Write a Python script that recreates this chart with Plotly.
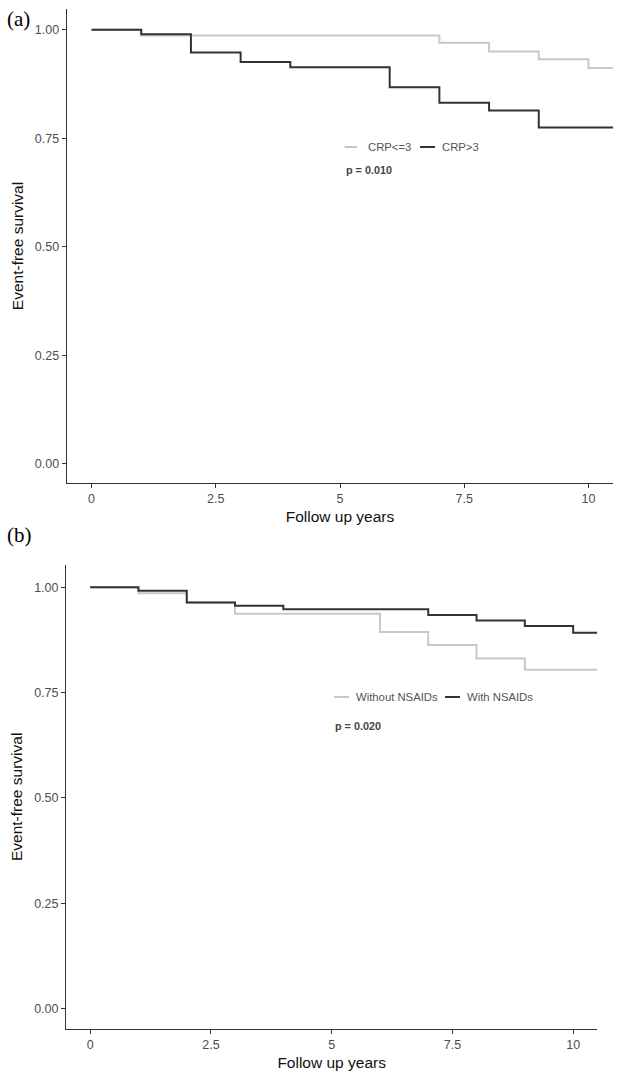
import plotly.graph_objects as go

# ---------------- data ----------------
# Panel (a): CRP groups
time_a_low = [0, 1, 7, 8, 9, 10, 10.5]
surv_a_low = [1.00, 0.987, 0.970, 0.950, 0.932, 0.912, 0.912]
time_a_high = [0, 1, 2, 3, 4, 6, 7, 8, 9, 10.5]
surv_a_high = [1.00, 0.990, 0.948, 0.926, 0.914, 0.868, 0.832, 0.814, 0.775, 0.775]
names_a = ["CRP<=3", "CRP>3"]
p_a = "p = 0.010"

# Panel (b): NSAIDs groups
time_b_without = [0, 1, 2, 3, 6, 7, 8, 9, 10.5]
surv_b_without = [1.00, 0.986, 0.964, 0.937, 0.894, 0.863, 0.831, 0.804, 0.804]
time_b_with = [0, 1, 2, 3, 4, 7, 8, 9, 10, 10.5]
surv_b_with = [1.00, 0.992, 0.964, 0.956, 0.948, 0.934, 0.921, 0.908, 0.892, 0.892]
names_b = ["Without NSAIDs", "With NSAIDs"]
p_b = "p = 0.020"

x_ticks = [0, 2.5, 5, 7.5, 10]
x_ticklabels = ["0", "2.5", "5", "7.5", "10"]
y_ticks = [0, 0.25, 0.5, 0.75, 1.0]
y_ticklabels = ["0.00", "0.25", "0.50", "0.75", "1.00"]

LIGHT = "#c8c8c8"
DARK = "#333333"
W, H = 625, 1076
SANS = "Liberation Sans, Arial, sans-serif"
SERIF = "Liberation Serif, Times New Roman, serif"

fig = go.Figure()

fig.add_trace(go.Scatter(x=time_a_low, y=surv_a_low, mode="lines", line_shape="hv",
                         line=dict(color=LIGHT, width=2), name=names_a[0],
                         xaxis="x", yaxis="y", showlegend=False))
fig.add_trace(go.Scatter(x=time_a_high, y=surv_a_high, mode="lines", line_shape="hv",
                         line=dict(color=DARK, width=2), name=names_a[1],
                         xaxis="x", yaxis="y", showlegend=False))
fig.add_trace(go.Scatter(x=time_b_without, y=surv_b_without, mode="lines", line_shape="hv",
                         line=dict(color=LIGHT, width=2), name=names_b[0],
                         xaxis="x2", yaxis="y2", showlegend=False))
fig.add_trace(go.Scatter(x=time_b_with, y=surv_b_with, mode="lines", line_shape="hv",
                         line=dict(color=DARK, width=2), name=names_b[1],
                         xaxis="x2", yaxis="y2", showlegend=False))


def px_x(v):
    return v / W


def px_y(v):
    return 1 - v / H


axis_common = dict(showline=True, linecolor="#333333", linewidth=1, ticks="outside",
                   ticklen=4, tickwidth=1, tickcolor="#333333", showgrid=False,
                   zeroline=False, automargin=False,
                   tickfont=dict(family=SANS, size=12.5, color="#4d4d4d"),
                   fixedrange=True)
title_font = dict(family=SANS, size=15.5, color="#111")

fig.update_layout(
    width=W, height=H,
    margin=dict(l=0, r=0, t=0, b=0),
    paper_bgcolor="white", plot_bgcolor="white",
    xaxis=dict(domain=[px_x(66.7), px_x(613.3)], range=[-0.5, 10.5], anchor="y",
               tickvals=x_ticks, ticktext=x_ticklabels,
               title=dict(text="Follow up years", font=title_font, standoff=6),
               **axis_common),
    yaxis=dict(domain=[px_y(483), px_y(9)], range=[-0.044, 1.048], anchor="x",
               tickvals=y_ticks, ticktext=y_ticklabels,
               title=dict(text="Event-free survival", font=title_font, standoff=7),
               **axis_common),
    xaxis2=dict(domain=[px_x(66), px_x(597.3)], range=[-0.5, 10.5], anchor="y2",
                tickvals=x_ticks, ticktext=x_ticklabels,
                title=dict(text="Follow up years", font=title_font, standoff=6),
                **axis_common),
    yaxis2=dict(domain=[px_y(1028.7), px_y(565)], range=[-0.048, 1.053], anchor="x2",
                tickvals=y_ticks, ticktext=y_ticklabels,
                title=dict(text="Event-free survival", font=title_font, standoff=7),
                **axis_common),
)

# panel labels
fig.add_annotation(text="(a)", x=px_x(5), y=px_y(19), xref="paper", yref="paper",
                   xanchor="left", yanchor="middle", showarrow=False,
                   font=dict(family=SERIF, size=21, color="#000"))
fig.add_annotation(text="(b)", x=px_x(5), y=px_y(535), xref="paper", yref="paper",
                   xanchor="left", yanchor="middle", showarrow=False,
                   font=dict(family=SERIF, size=21, color="#000"))

# in-plot legends (keys + labels) and p-values
LEG_FONT = dict(family=SANS, size=11.3, color="#555555")
P_FONT = dict(family=SANS, size=10.8, color="#444444", weight="bold")


def legend_row(y, items):
    for (x0, x1, xt, color, label) in items:
        fig.add_shape(type="line", xref="paper", yref="paper",
                      x0=px_x(x0), x1=px_x(x1), y0=px_y(y), y1=px_y(y),
                      line=dict(color=color, width=2))
        fig.add_annotation(text=label, x=px_x(xt), y=px_y(y), xref="paper", yref="paper",
                           xanchor="left", yanchor="middle", showarrow=False, font=LEG_FONT)


legend_row(147, [(344.6, 357, 365.5, LIGHT, names_a[0]), (420, 435, 440, DARK, names_a[1])])
fig.add_annotation(text=p_a, x=px_x(343.5), y=px_y(169.5), xref="paper", yref="paper",
                   xanchor="left", yanchor="middle", showarrow=False, font=P_FONT)

legend_row(697, [(334, 349, 353.5, LIGHT, names_b[0]), (445, 460, 465, DARK, names_b[1])])
fig.add_annotation(text=p_b, x=px_x(332.5), y=px_y(726), xref="paper", yref="paper",
                   xanchor="left", yanchor="middle", showarrow=False, font=P_FONT)

# remove the browser's default page margin so the figure sits at (0, 0)
fig.write_html("out.html",
               config={"displayModeBar": False, "staticPlot": True},
               post_script="document.body.style.margin='0';document.body.style.overflow='hidden';")
